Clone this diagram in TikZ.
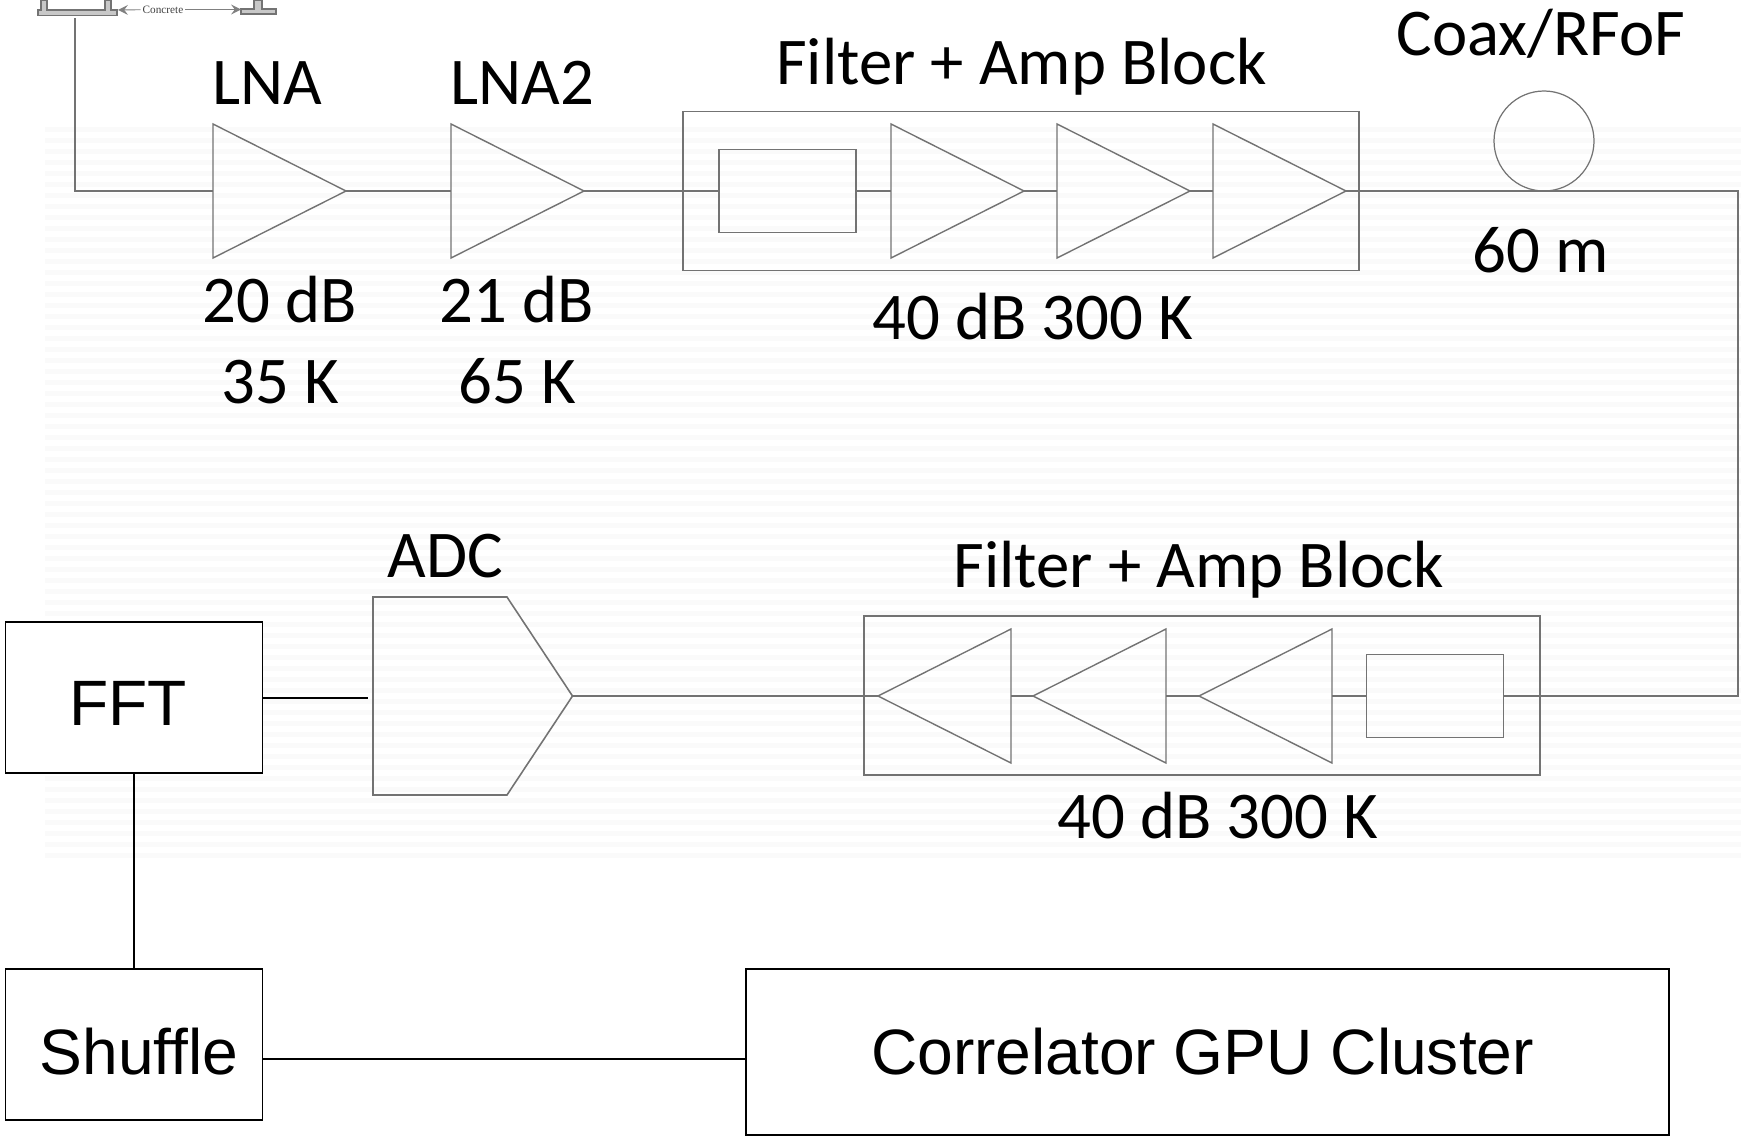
\documentclass[tikz,border=0pt]{standalone}
\usepackage{fontspec}
\setmainfont{Carlito}
\newfontfamily\arialfont{Liberation Sans}
\newfontfamily\timesfont{Liberation Serif}
\usetikzlibrary{arrows,shapes,positioning}
\definecolor{wiregray}{RGB}{115,115,115}
\definecolor{plategray}{RGB}{200,200,200}
\tikzstyle{wire} = [line width=0.45pt,color=wiregray]
\tikzstyle{blackwire} = [line width=0.4pt,color=black]
\tikzstyle{amp} = [draw=wiregray,line width=0.4pt,isosceles triangle,isosceles triangle stretches,minimum width=1.34cm,minimum height=1.33cm,inner sep=0pt,outer sep=0pt,anchor=lower side]
\tikzstyle{ampleft} = [amp,shape border rotate=180]
\tikzstyle{filterbox} = [draw=wiregray,line width=0.4pt,minimum width=1.37cm,minimum height=0.83cm,inner sep=0pt,outer sep=0pt]
\tikzstyle{blockbox} = [draw=wiregray,line width=0.4pt,minimum width=6.76cm,minimum height=1.59cm,inner sep=0pt,outer sep=0pt]
\tikzstyle{chainlabel} = [anchor=base,inner sep=0pt,yshift=-0.015cm,font=\fontsize{19}{22}\selectfont]
\tikzstyle{bigbox} = [draw=black,fill=white,line width=0.35pt,inner sep=0pt,outer sep=0pt]
\tikzstyle{bigtext} = [inner sep=0pt,font=\arialfont\fontsize{18.25}{22}\selectfont]

\begin{document}
\begin{tikzpicture}
\useasboundingbox (0,0) rectangle (17.41,11.36);

% Faint bands
\foreach \k in {0,...,66}
  \fill[black!2] (0.45,{2.78+\k*0.11}) rectangle (17.41,{2.83+\k*0.11});

% Concrete footing
\draw[line width=0.3pt,color=black!55,fill=plategray] (0.41,11.36) -- (0.41,11.26) -- (0.38,11.26) -- (0.38,11.205) -- (1.17,11.205) -- (1.17,11.26) -- (1.11,11.26) -- (1.11,11.36) -- (1.05,11.36) -- (1.05,11.26) -- (0.47,11.26) -- (0.47,11.36) -- cycle;
\draw[line width=0.3pt,color=black!55,fill=plategray] (2.54,11.36) -- (2.54,11.27) -- (2.41,11.27) -- (2.41,11.22) -- (2.76,11.22) -- (2.76,11.27) -- (2.62,11.27) -- (2.62,11.36) -- cycle;
\node[inner sep=0.4pt,font=\timesfont\fontsize{3.2}{4}\selectfont,text=black!75] (concrete) at (1.63,11.265) {Concrete};
\coordinate (plateleft) at (1.18,11.26);
\coordinate (plateright) at (2.41,11.265);
\draw[line width=0.25pt,color=black!50,->,>=stealth] (concrete) -- (plateleft);
\draw[line width=0.25pt,color=black!50,->,>=stealth] (concrete) -- (plateright);

% Upper chain
\node[amp] (lna) at (2.13,9.45) {};
\node[amp] (lnatwo) at (4.51,9.45) {};
\node[blockbox] (blockup) at (10.21,9.45) {};
\node[filterbox] (filterup) at (7.875,9.45) {};
\node[amp] (ampupa) at (8.91,9.45) {};
\node[amp] (ampupb) at (10.57,9.45) {};
\node[amp] (ampupc) at (12.13,9.45) {};
\node[draw=wiregray,line width=0.35pt,circle,minimum size=1cm,inner sep=0pt,outer sep=0pt] (coax) at (15.44,9.95) {};

% Lower chain
\node[blockbox] (blockdown) at (12.02,4.405) {};
\node[filterbox] (filterdown) at (14.35,4.40) {};
\node[ampleft] (ampdowna) at (13.32,4.40) {};
\node[ampleft] (ampdownb) at (11.66,4.40) {};
\node[ampleft] (ampdownc) at (10.11,4.40) {};
\node[draw=wiregray,line width=0.45pt,signal,signal to=east,signal from=nowhere,signal pointer angle=113,minimum width=1.995cm,minimum height=1.98cm,inner sep=0pt,outer sep=0pt,anchor=west] (adc) at (3.73,4.40) {};

% Digital boxes
\node[bigbox,minimum width=2.57cm,minimum height=1.51cm,label={[bigtext,xshift=-0.06cm,yshift=-0.055cm]center:FFT}] (fft) at (1.34,4.385) {};
\node[bigbox,minimum width=2.57cm,minimum height=1.51cm,label={[bigtext,xshift=0.05cm,yshift=-0.07cm]center:Shuffle}] (shuffle) at (1.34,0.915) {};
\node[bigbox,minimum width=9.23cm,minimum height=1.66cm,label={[bigtext,xshift=-0.05cm]center:Correlator GPU Cluster}] (correlator) at (12.075,0.84) {};

% Wires
\coordinate (feedtop) at (0.75,11.18);
\coordinate (feedcorner) at (0.75,9.45);
\coordinate (cornerup) at (17.38,9.45);
\coordinate (cornerdown) at (17.38,4.40);
\coordinate (adcgap) at (3.68,4.38);
\coordinate (shuffleout) at (2.625,0.77);
\draw[wire] (feedtop) -- (feedcorner) -- (lna.lower side);
\draw[wire] (lna.apex) -- (lnatwo.lower side);
\draw[wire] (lnatwo.apex) -- (filterup.west);
\draw[wire] (filterup.east) -- (ampupa.lower side);
\draw[wire] (ampupa.apex) -- (ampupb.lower side);
\draw[wire] (ampupb.apex) -- (ampupc.lower side);
\draw[wire] (ampupc.apex) -- (cornerup) -- (cornerdown) -- (filterdown.east);
\draw[wire] (filterdown.west) -- (ampdowna.lower side);
\draw[wire] (ampdowna.apex) -- (ampdownb.lower side);
\draw[wire] (ampdownb.apex) -- (ampdownc.lower side);
\draw[wire] (ampdownc.apex) -- (adc.east);
\draw[blackwire] (fft.east |- adcgap) -- (adcgap);
\draw[blackwire] (fft.south) -- (shuffle.north);
\draw[blackwire] (shuffleout) -- (shuffleout -| correlator.west);

% Labels
\node[chainlabel] (lnaname) at (2.675,10.33) {LNA};
\node[chainlabel] (lnatwoname) at (5.22,10.33) {LNA2};
\node[chainlabel] (blockupname) at (10.215,10.53) {Filter + Amp Block};
\node[chainlabel] (coaxname) at (15.41,10.82) {Coax/RFoF};
\node[chainlabel] (coaxlength) at (15.41,8.65) {60 m};
\node[chainlabel] (lnagain) at (2.80,8.15) {20 dB};
\node[chainlabel] (lnatemp) at (2.80,7.34) {35 K};
\node[chainlabel] (lnatwogain) at (5.17,8.15) {21 dB};
\node[chainlabel] (lnatwotemp) at (5.17,7.34) {65 K};
\node[chainlabel] (blockupspec) at (10.325,7.98) {40 dB 300 K};
\node[chainlabel] (adcname) at (4.45,5.60) {ADC};
\node[chainlabel] (blockdownname) at (11.99,5.50) {Filter + Amp Block};
\node[chainlabel] (blockdownspec) at (12.18,2.99) {40 dB 300 K};
\end{tikzpicture}
\end{document}
